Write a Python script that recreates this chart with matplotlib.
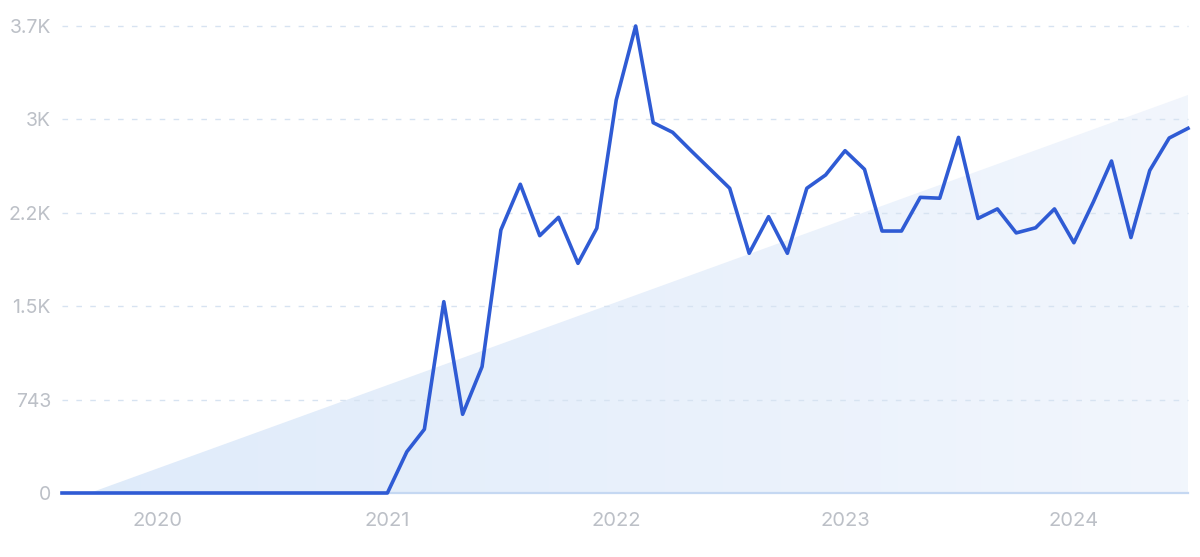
import matplotlib
matplotlib.use("Agg")
import matplotlib.pyplot as plt
import numpy as np
import pandas as pd
from matplotlib.patches import Polygon

# monthly values, Aug 2019 .. Jul 2024
months = pd.date_range("2019-08-01", "2024-07-01", freq="MS")
values = [0] * 18 + [
    328, 507, 1522, 626, 1005, 2092, 2456, 2047, 2193, 1827, 2106,      # 2021
    3126, 3715, 2946, 2869, 2720, 2570, 2424, 1907, 2198, 1907, 2424, 2530,  # 2022
    2723, 2575, 2084, 2084, 2352, 2345, 2829, 2184, 2260, 2069, 2110, 2260,  # 2023
    1991, 2315, 2641, 2032, 2566, 2824, 2901,                          # 2024
]
trend_start, trend_end = -80, 3166

ytick_vals = [0, 743, 1486, 2229, 2972, 3715]
ytick_labels = ["0", "743", "1.5K", "2.2K", "3K", "3.7K"]
xtick_dates = pd.to_datetime(["2020-01-01", "2021-01-01", "2022-01-01", "2023-01-01", "2024-01-01"])
xtick_labels = ["2020", "2021", "2022", "2023", "2024"]

plt.rcParams["font.family"] = ["Inter", "DejaVu Sans"]

fig = plt.figure(figsize=(12, 5.57), dpi=100)
ax = fig.add_axes([62 / 1200, 64 / 557, 1126 / 1200, 467 / 557])

df = pd.DataFrame({"month": months, "value": values})
x0, x1 = df["month"].iloc[0], df["month"].iloc[-1]
ax.set_xlim(x0, x1)
ax.set_ylim(0, 3715)

# trend area with a soft left-to-right gradient
xn0 = matplotlib.dates.date2num(x0)
xn1 = matplotlib.dates.date2num(x1)
x_cross = xn0 + (0 - trend_start) / (trend_end - trend_start) * (xn1 - xn0)
tri = Polygon([(x_cross, 0), (xn1, trend_end), (xn1, 0)], closed=True,
              facecolor="none", edgecolor="none")
ax.add_patch(tri)
c_left = np.array([0.875, 0.922, 0.980])
c_right = np.array([0.949, 0.965, 0.992])
t = np.linspace(0, 1, 1200)
grad = (c_left[None, :] * (1 - t[:, None]) + c_right[None, :] * t[:, None])[None, :, :]
grad = np.repeat(grad, 4, axis=0)
im = ax.imshow(grad, extent=[x_cross, xn1, 0, trend_end], aspect="auto",
               origin="lower", zorder=0.5, interpolation="antialiased")
im.set_clip_path(tri)

# grid
for v in ytick_vals[1:]:
    ax.axhline(v, color="#d7e3f1", lw=1, ls=(0, (4, 6)), zorder=1, clip_on=False)
ax.axhline(0, color="#c5d8f2", lw=1.6, zorder=1.5, clip_on=False)

ax.plot("month", "value", data=df, color="#2f5bd4", lw=2.6, zorder=3,
        solid_joinstyle="round", clip_on=False)

for s in ax.spines.values():
    s.set_visible(False)
ax.set_yticks(ytick_vals)
ax.set_yticklabels(ytick_labels)
ax.set_xticks(xtick_dates)
ax.set_xticklabels(xtick_labels)
ax.tick_params(axis="y", length=0, pad=8, labelsize=14, labelcolor="#bcc0c7")
ax.tick_params(axis="x", length=0, pad=14, labelsize=14.5, labelcolor="#bcc0c7")
ax.set_facecolor("white")

fig.savefig("out.png", dpi=100, facecolor="white")
